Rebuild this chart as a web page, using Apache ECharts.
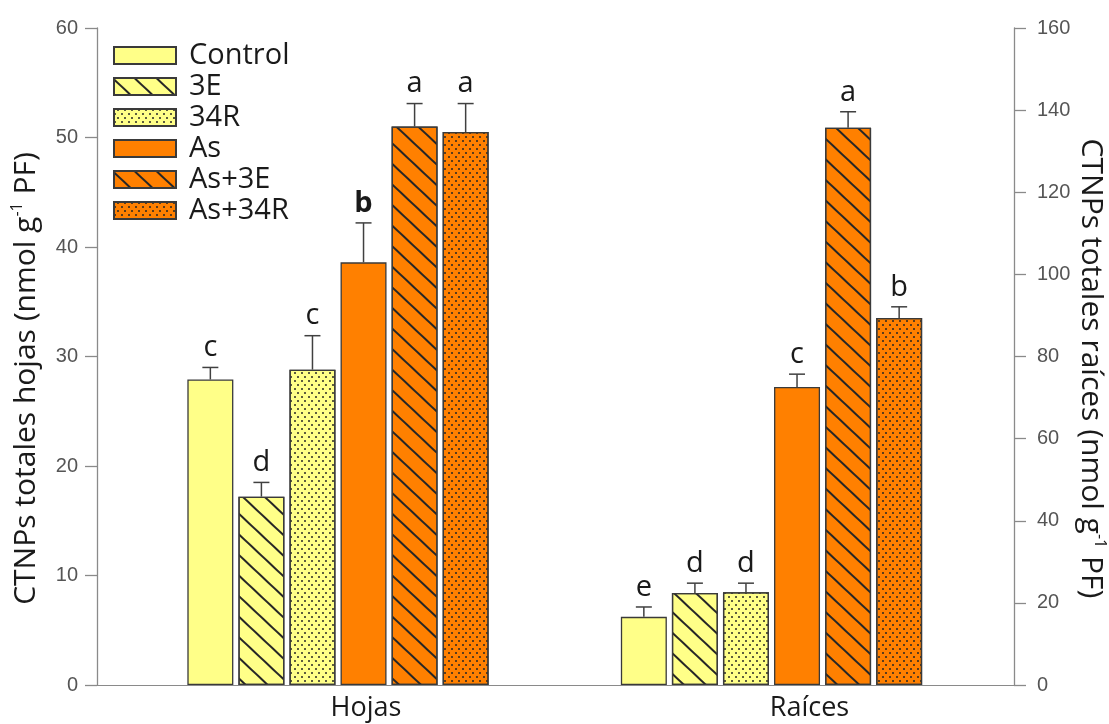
<!DOCTYPE html>
<html><head><meta charset="utf-8">
<script src="https://cdn.jsdelivr.net/npm/echarts@6/dist/echarts.min.js"></script>
<style>html,body{margin:0;padding:0;background:#fff}#c{width:1109px;height:724px}</style>
</head><body><div id="c"></div>
<script>
// ---- data ----
const treatments = ['Control', '3E', '34R', 'As', 'As+3E', 'As+34R'];
const organHojas = ['Hojas'];
const organRaices = ['Raíces'];
const hojasValues = [27.9, 17.2, 28.8, 38.6, 51.0, 50.5];
const hojasErrors = [1.1, 1.3, 3.1, 3.6, 2.1, 2.6];
const hojasLetters = ['c', 'd', 'c', 'b', 'a', 'a'];
const raicesValues = [16.6, 22.4, 22.6, 72.6, 135.7, 89.4];
const raicesErrors = [2.4, 2.4, 2.2, 3.1, 3.9, 2.7];
const raicesLetters = ['e', 'd', 'd', 'c', 'a', 'b'];
const leftAxisTicks = [0, 10, 20, 30, 40, 50, 60];
const rightAxisTicks = [0, 20, 40, 60, 80, 100, 120, 140, 160];

// ---- style ----
const YELLOW = '#FFFF88', ORANGE = '#FF8000', EDGE = '#3a3a3a';
const BAR_W = 46, GAP_PCT = 0.11;
const hatch = { symbol: 'rect', symbolSize: 1, color: '#262626', dashArrayX: [1, 0], dashArrayY: [1.3, 12.7], rotation: Math.PI * 0.24 };
const dots = { symbol: 'circle', symbolSize: 1, color: '#262626', dashArrayX: [[1.6, 4.4], [0, 3, 1.6, 1.4]], dashArrayY: [1.6, 1.9] };
const fills = [YELLOW, YELLOW, YELLOW, ORANGE, ORANGE, ORANGE];
const decals = [null, hatch, dots, null, hatch, dots];
const FONT = 'Open Sans';

function itemStyle(i) {
  const s = { color: fills[i], borderColor: EDGE, borderWidth: 1.3 };
  if (decals[i]) s.decal = decals[i];
  return s;
}

function errRender(letters, boldIndex) {
  return function (params, api) {
    const i = api.value(3);
    const base = api.coord([0, api.value(1)]);
    const top = api.coord([0, api.value(2)]);
    const x = base[0] + (i - 2.5) * (BAR_W * (1 + GAP_PCT));
    const cap = 8;
    const bold = i === boldIndex;
    return {
      type: 'group', children: [
        { type: 'line', shape: { x1: x, y1: base[1], x2: x, y2: top[1] }, style: { stroke: '#404040', lineWidth: 1.5 } },
        { type: 'line', shape: { x1: x - cap, y1: top[1], x2: x + cap, y2: top[1] }, style: { stroke: '#404040', lineWidth: 1.5 } },
        { type: 'text', x: x, y: top[1] - 5, style: { text: letters[i], fill: '#1a1a1a', font: (bold ? 'bold ' : '') + '29px "' + FONT + '"', align: 'center', verticalAlign: 'bottom' } }
      ]
    };
  };
}

const series = [];
treatments.forEach((t, i) => {
  series.push({ name: t, type: 'bar', xAxisIndex: 0, yAxisIndex: 0, barWidth: BAR_W, barGap: (GAP_PCT * 100) + '%', data: [hojasValues[i]], itemStyle: itemStyle(i) });
});
treatments.forEach((t, i) => {
  series.push({ name: t, type: 'bar', xAxisIndex: 1, yAxisIndex: 1, barWidth: BAR_W, barGap: (GAP_PCT * 100) + '%', data: [raicesValues[i]], itemStyle: itemStyle(i) });
});
series.push({ type: 'custom', xAxisIndex: 0, yAxisIndex: 0, z: 5, encode: { x: 0, y: [1, 2] },
  data: hojasValues.map((v, i) => [0, v, v + hojasErrors[i], i]), renderItem: errRender(hojasLetters, 3) });
series.push({ type: 'custom', xAxisIndex: 1, yAxisIndex: 1, z: 5, encode: { x: 0, y: [1, 2] },
  data: raicesValues.map((v, i) => [0, v, v + raicesErrors[i], i]), renderItem: errRender(raicesLetters, -1) });

const axisGrey = '#8a8a8a';
const tickLabel = { fontFamily: 'Liberation Sans', fontSize: 20, color: '#555', margin: 19 };
const titleRich = {
  t: { fontFamily: FONT, fontSize: 30, color: '#1a1a1a', lineHeight: 34 },
  s: { fontFamily: FONT, fontSize: 16, color: '#1a1a1a', lineHeight: 18, verticalAlign: 'top' }
};

const option = {
  animation: false,
  backgroundColor: '#fff',
  grid: [
    { left: 97, top: 28, width: 482, height: 657 },
    { left: 529, top: 28, width: 488, height: 657 }
  ],
  legend: {
    data: treatments, orient: 'vertical', left: 108, top: 36,
    itemWidth: 62, itemHeight: 17, itemGap: 2, icon: 'rect', selectedMode: false,
    textStyle: { fontFamily: FONT, fontSize: 29, color: '#1a1a1a', lineHeight: 28, padding: [0, 0, 0, 8] }
  },
  xAxis: [
    { type: 'category', gridIndex: 0, data: organHojas, axisTick: { show: false },
      axisLine: { lineStyle: { color: axisGrey, width: 1 } },
      axisLabel: { fontFamily: FONT, fontSize: 27, color: '#1a1a1a', margin: 10, padding: [0, 0, 0, 56] } },
    { type: 'category', gridIndex: 1, data: organRaices, axisTick: { show: false },
      axisLine: { lineStyle: { color: axisGrey, width: 1 } },
      axisLabel: { fontFamily: FONT, fontSize: 27, color: '#1a1a1a', margin: 10, padding: [0, 0, 0, 76] } }
  ],
  yAxis: [
    { type: 'value', gridIndex: 0, position: 'left', min: leftAxisTicks[0], max: leftAxisTicks[leftAxisTicks.length - 1], interval: leftAxisTicks[1] - leftAxisTicks[0],
      splitLine: { show: false }, axisLine: { show: true, lineStyle: { color: axisGrey, width: 1.3 } },
      axisTick: { show: true, length: 12, lineStyle: { color: axisGrey, width: 1.3 } },
      axisLabel: tickLabel,
      name: '{t|CTNPs totales hojas (nmol g}{s|-1}{t| PF)}', nameLocation: 'middle', nameRotate: 90, nameGap: 54,
      nameTextStyle: { rich: titleRich, padding: [0, 44, 0, 0] } },
    { type: 'value', gridIndex: 1, position: 'right', min: rightAxisTicks[0], max: rightAxisTicks[rightAxisTicks.length - 1], interval: rightAxisTicks[1] - rightAxisTicks[0],
      splitLine: { show: false }, axisLine: { show: true, lineStyle: { color: axisGrey, width: 1.3 } },
      axisTick: { show: true, length: 12, lineStyle: { color: axisGrey, width: 1.3 } },
      axisLabel: Object.assign({}, tickLabel, { margin: 23 }),
      name: '{t|CTNPs totales raíces (nmol g}{s|-1}{t| PF)}', nameLocation: 'middle', nameRotate: -90, nameGap: 60,
      nameTextStyle: { rich: titleRich, padding: [0, 0, 0, 24] } }
  ],
  series: series
};

const chart = echarts.init(document.getElementById('c'), null, { renderer: 'canvas' });
chart.setOption(option);
</script>
</body></html>
